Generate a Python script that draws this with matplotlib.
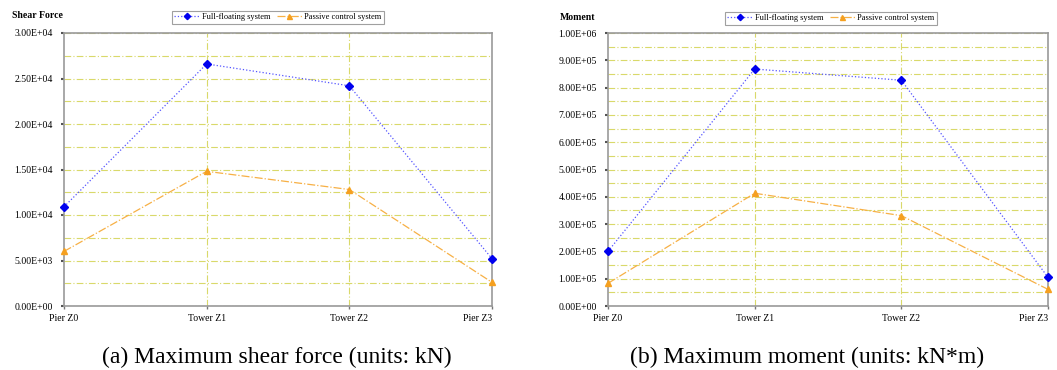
import numpy as np
import matplotlib
matplotlib.use('Agg')
import matplotlib.pyplot as plt
from matplotlib.ticker import MultipleLocator, FuncFormatter

plt.rcParams['font.family'] = ['Liberation Serif', 'DejaVu Serif']

# data
locations = ['Pier Z0', 'Tower Z1', 'Tower Z2', 'Pier Z3']
shear_full = [1.09e4, 2.66e4, 2.42e4, 5.2e3]
shear_passive = [6.0e3, 1.48e4, 1.28e4, 2.6e3]
moment_full = [2.0e5, 8.68e5, 8.27e5, 1.05e5]
moment_passive = [8.3e4, 4.13e5, 3.31e5, 6.1e4]

blue = '#0000ee'
orange = '#f5a020'
grid_col = '#d9d96a'

W, H = 1057, 370
fig = plt.figure(figsize=(W / 100, H / 100), dpi=100)


def sci(v, pos):
    return '%.2E' % v


def draw(rect, full, passive, ymax, major, ylab, ylab_xy, leg_xy, caption, cap_x):
    ax = fig.add_axes(rect)
    x = np.arange(len(locations))
    ax.plot(x, full, color='#5555ff', ls=':', lw=0.9, marker='D', ms=4, mfc=blue, mec=blue,
            label='Full-floating system', clip_on=False, zorder=4)
    ax.plot(x, passive, color='#f7b045', ls='-.', lw=0.9, marker='^', ms=4.5, mfc=orange,
            mec=orange, label='Passive control system', clip_on=False, zorder=4)
    ax.set_xlim(0, 3)
    ax.set_ylim(0, ymax)
    ax.set_xticks(x)
    ax.set_xticklabels(locations, fontsize=7)
    ax.get_xticklabels()[-1].set_ha('right')
    ax.yaxis.set_major_locator(MultipleLocator(major))
    ax.yaxis.set_minor_locator(MultipleLocator(major / 2))
    ax.yaxis.set_major_formatter(FuncFormatter(sci))
    ax.tick_params(axis='y', labelsize=7, length=2, width=1.5, color='#555555', pad=6)
    ax.tick_params(axis='y', which='minor', length=0)
    ax.tick_params(axis='x', length=2, width=1, color='#777777', pad=4)
    ax.grid(True, axis='y', which='both', color=grid_col, ls=(0, (6, 2, 1, 2)), lw=0.8)
    for xv in (1, 2):
        ax.axvline(xv, color=grid_col, ls=(0, (6, 2, 1, 2)), lw=0.8, zorder=1)
    for s in ax.spines.values():
        s.set_color('#999999')
        s.set_linewidth(1.2)
    ax.set_axisbelow(True)
    fig.text(ylab_xy[0] / W, 1 - ylab_xy[1] / H, ylab, fontsize=7, fontweight='bold',
             ha='left', va='center')
    leg = ax.legend(loc='center', bbox_to_anchor=(leg_xy[0] / W, 1 - leg_xy[1] / H),
                    bbox_transform=fig.transFigure, ncol=2, fontsize=6, frameon=True,
                    fancybox=False, edgecolor='#888888', borderpad=0.3, handlelength=3,
                    columnspacing=0.8, handletextpad=0.3, markerscale=0.8)
    leg.get_frame().set_linewidth(0.8)
    fig.text(cap_x / W, 1 - 357 / H, caption, fontsize=17, ha='center', va='center')
    return ax


draw([64 / W, 1 - 306 / H, 428 / W, 273 / H], shear_full, shear_passive, 3.0e4, 5.0e3,
     'Shear Force', (12, 16), (278, 17), '(a) Maximum shear force (units: kN)', 277)
draw([608 / W, 1 - 306 / H, 440 / W, 273 / H], moment_full, moment_passive, 1.0e6, 1.0e5,
     'Moment', (560, 18), (831, 18), '(b) Maximum moment (units: kN*m)', 807)

fig.savefig('out.png', dpi=100)
